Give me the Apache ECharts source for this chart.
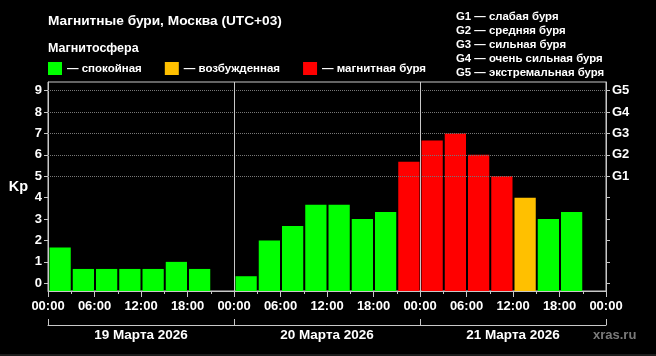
<!DOCTYPE html>
<html>
<head>
<meta charset="utf-8">
<script src="https://cdn.jsdelivr.net/npm/echarts@6/dist/echarts.min.js"></script>
<style>
  html, body { margin: 0; padding: 0; background: #000; }
  #chart { width: 656px; height: 356px; }
</style>
</head>
<body>
<div id="chart"></div>
<script>
// начало 3-часовых интервалов, часы от 19 марта 00:00
const hours = [0, 3, 6, 9, 12, 15, 18, 21, 24, 27, 30, 33, 36, 39, 42, 45, 48, 51, 54, 57, 60, 63, 66, 69]
// индекс Kp по интервалам (null = нет данных)
const kp = [
  1.67, 0.67, 0.67, 0.67, 0.67, 1.0, 0.67, null,  // 19 марта
  0.33, 2.0, 2.67, 3.67, 3.67, 3.0, 3.33, 5.67,   // 20 марта
  6.67, 7.0, 6.0, 5.0, 4.0, 3.0, 3.33, null       // 21 марта
]
const hourLabels = ['00:00', '06:00', '12:00', '18:00']
const dayLabels = ['19 Марта 2026', '20 Марта 2026', '21 Марта 2026']
const kpTicks = [0, 1, 2, 3, 4, 5, 6, 7, 8, 9]
const gTicks = [5, 6, 7, 8, 9]
const gLabels = ['G1', 'G2', 'G3', 'G4', 'G5']
const gNotes = [
  'G1 — слабая буря',
  'G2 — средняя буря',
  'G3 — сильная буря',
  'G4 — очень сильная буря',
  'G5 — экстремальная буря'
]
const stateNames = ['— спокойная', '— возбужденная', '— магнитная буря']

const Y_MIN = -0.36
const Y_MAX = 9.4
const FONT = 'Liberation Sans, Arial, sans-serif'

const chart = echarts.init(document.getElementById('chart'))

// столбик на весь 3-часовой интервал, от низа оси
function renderBar(params, api) {
  const h = api.value(0)
  const v = api.value(1)
  const p0 = api.coord([h, Y_MIN])
  const p1 = api.coord([h + 3, v])
  return {
    type: 'rect',
    shape: { x: p0[0] + 1.5, y: p1[1], width: p1[0] - p0[0] - 2, height: p0[1] - p1[1] },
    style: { fill: api.visual('color') }
  }
}

function pick(test) {
  return hours.map((h, i) => [h, kp[i]]).filter(d => d[1] != null && test(d[1]))
}

const white = { color: '#fff', fontWeight: 'bold', fontFamily: FONT }
const gray = '#c8c8c8'

const option = {
  backgroundColor: '#000',
  animation: false,
  textStyle: { fontFamily: FONT },
  title: [
    { text: 'Магнитные бури, Москва (UTC+03)', left: 43, top: 9, textStyle: { ...white, fontSize: 13.7 } },
    { text: 'Магнитосфера', left: 43, top: 37, textStyle: { ...white, fontSize: 12.5 } },
    { text: gNotes.join('\n'), left: 451, top: 5, textStyle: { ...white, fontSize: 11.4, lineHeight: 13.9 } },
    { text: 'xras.ru', left: 588, top: 324, textStyle: { color: '#7a7a7a', fontWeight: 'bold', fontSize: 13, fontFamily: FONT } }
  ],
  legend: {
    left: 43,
    top: 57,
    icon: 'rect',
    itemWidth: 14,
    itemHeight: 13,
    itemGap: 23,
    data: stateNames,
    textStyle: { ...white, fontSize: 11.5 }
  },
  grid: {
    left: 48, right: 50, top: 82, bottom: 65,
    outerBoundsMode: 'none',
    show: true, borderColor: gray, borderWidth: 1
  },
  xAxis: [
    {
      type: 'value', min: 0, max: 72, interval: 6,
      axisLine: { onZero: false, lineStyle: { color: gray } },
      axisTick: { length: 6, lineStyle: { color: gray } },
      minorTick: { show: true, splitNumber: 2, length: 3, lineStyle: { color: gray } },
      splitLine: { show: false },
      axisLabel: {
        ...white, fontSize: 13, margin: 9, showMaxLabel: true,
        formatter: v => hourLabels[(v % 24) / 6]
      }
    },
    {
      type: 'value', min: 0, max: 72, interval: 24, position: 'bottom', offset: 34,
      axisLine: { onZero: false, lineStyle: { color: gray } },
      axisTick: { inside: true, length: 6, lineStyle: { color: gray } },
      splitLine: { show: false },
      axisLabel: {
        ...white, fontSize: 13.5, margin: 3,
        customValues: [12, 36, 60],
        formatter: v => dayLabels[Math.floor(v / 24)]
      }
    }
  ],
  yAxis: [
    {
      type: 'value', min: Y_MIN, max: Y_MAX,
      name: 'Kp', nameLocation: 'middle', nameRotate: 0, nameGap: 20,
      nameTextStyle: { ...white, fontSize: 14.5 },
      axisLine: { show: true, onZero: false, lineStyle: { color: gray } },
      axisTick: { show: true, length: 4, customValues: kpTicks, lineStyle: { color: gray } },
      splitLine: { show: false },
      axisLabel: { ...white, fontSize: 13, margin: 6, customValues: kpTicks }
    },
    {
      type: 'value', min: Y_MIN, max: Y_MAX, position: 'right',
      axisLine: { show: true, onZero: false, lineStyle: { color: gray } },
      axisTick: { show: true, length: 4, customValues: kpTicks, lineStyle: { color: gray } },
      splitLine: { show: false },
      axisLabel: {
        ...white, fontSize: 13, margin: 6, customValues: gTicks,
        formatter: v => gLabels[v - 5]
      }
    }
  ],
  series: [
    {
      name: stateNames[0], type: 'custom', renderItem: renderBar,
      itemStyle: { color: '#00ff00' }, encode: { x: 0, y: 1 },
      data: pick(v => v < 4),
      markLine: {
        silent: true, symbol: ['none', 'none'], label: { show: false },
        data: [
          ...gTicks.map(v => ({ yAxis: v, lineStyle: { type: 'dotted', color: '#777', width: 1 } })),
          { xAxis: 24, lineStyle: { type: 'solid', color: gray, width: 1 } },
          { xAxis: 48, lineStyle: { type: 'solid', color: gray, width: 1 } }
        ]
      }
    },
    {
      name: stateNames[1], type: 'custom', renderItem: renderBar,
      itemStyle: { color: '#ffc000' }, encode: { x: 0, y: 1 },
      data: pick(v => v >= 4 && v < 5)
    },
    {
      name: stateNames[2], type: 'custom', renderItem: renderBar,
      itemStyle: { color: '#ff0000' }, encode: { x: 0, y: 1 },
      data: pick(v => v >= 5)
    }
  ],
  graphic: [
    { type: 'rect', left: 0, top: 354, shape: { width: 656, height: 2 }, style: { fill: '#1c1c1c' } }
  ]
}

chart.setOption(option)
</script>
</body>
</html>
